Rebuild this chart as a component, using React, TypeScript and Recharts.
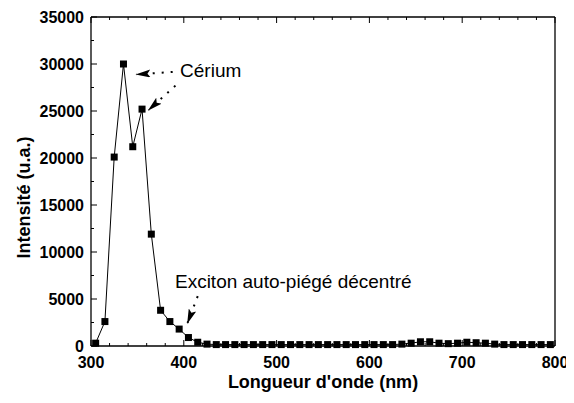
import React from 'react';
import { LineChart, Line, XAxis, YAxis, ReferenceLine, ReferenceDot, Label } from 'recharts';

const wavelengths = [
  305, 315, 325, 335, 345, 355, 365, 375, 385, 395,
  405, 415, 425, 435, 445, 455, 465, 475, 485, 495,
  505, 515, 525, 535, 545, 555, 565, 575, 585, 595,
  605, 615, 625, 635, 645, 655, 665, 675, 685, 695,
  705, 715, 725, 735, 745, 755, 765, 775, 785, 795,
];
const intensities = [
  300, 2600, 20100, 30000, 21200, 25200, 11900, 3800, 2600, 1800,
  900, 400, 200, 150, 150, 150, 150, 150, 150, 150,
  150, 150, 150, 150, 150, 150, 150, 150, 150, 150,
  150, 150, 150, 200, 300, 450, 450, 300, 250, 300,
  400, 350, 300, 200, 150, 150, 150, 150, 150, 150,
];
const xTicks = [300, 320, 340, 360, 380, 400, 420, 440, 460, 480, 500, 520, 540, 560, 580, 600, 620, 640, 660, 680, 700, 720, 740, 760, 780, 800];
const yTicks = [0, 2500, 5000, 7500, 10000, 12500, 15000, 17500, 20000, 22500, 25000, 27500, 30000, 32500, 35000];

const FONT = '"Liberation Sans", Arial, sans-serif';

const data = wavelengths.map((w, i) => ({ w, v: intensities[i] }));

function BottomTick(props: any) {
  const { x, y, payload } = props;
  const major = payload.value % 100 === 0;
  return (
    <g>
      <line x1={x} x2={x} y1={y} y2={y - (major ? 6 : 3)} stroke="#000" />
      {major && (
        <text x={x} y={y + 22} textAnchor="middle" fontFamily={FONT} fontWeight="bold" fontSize={16} fill="#000">
          {payload.value}
        </text>
      )}
    </g>
  );
}

function TopTick(props: any) {
  const { x, y, payload } = props;
  const major = payload.value % 100 === 0;
  return <line x1={x} x2={x} y1={y} y2={y + (major ? 6 : 3)} stroke="#000" />;
}

function LeftTick(props: any) {
  const { x, y, payload } = props;
  const major = payload.value % 5000 === 0;
  return (
    <g>
      <line x1={x} x2={x + (major ? 6 : 3)} y1={y} y2={y} stroke="#000" />
      {major && (
        <text x={x - 7} y={y + 6} textAnchor="end" fontFamily={FONT} fontWeight="bold" fontSize={16} fill="#000">
          {payload.value}
        </text>
      )}
    </g>
  );
}

function RightTick(props: any) {
  const { x, y, payload } = props;
  const major = payload.value % 5000 === 0;
  return <line x1={x} x2={x - (major ? 6 : 3)} y1={y} y2={y} stroke="#000" />;
}

function SquareDot(props: any) {
  const { cx, cy, index } = props;
  return <rect key={index} x={cx - 3.5} y={cy - 3.5} width={7} height={7} fill="#000" />;
}

const arrowStyle = { stroke: '#000', strokeWidth: 2, strokeDasharray: '2 7' };

export default function App() {
  return (
    <div style={{ fontFamily: FONT }}>
      <LineChart width={566} height={395} data={data} margin={{ top: 8, right: 18, left: 13, bottom: 0 }}>
        <defs>
          <marker id="arrowHead" viewBox="0 0 15 8" refX="14" refY="4" markerWidth="15" markerHeight="8" orient="auto" markerUnits="userSpaceOnUse">
            <path d="M0,0 L15,4 L0,8 L3,4 z" fill="#000" />
          </marker>
        </defs>
        <XAxis
          dataKey="w"
          type="number"
          domain={[300, 800]}
          ticks={xTicks}
          interval={0}
          height={57}
          tickSize={0}
          tickMargin={0}
          tick={<BottomTick />}
          axisLine={{ stroke: '#000', strokeWidth: 1.3 }}
          tickLine={false}
        >
          <Label
            content={({ viewBox }: any) => (
              <text x={viewBox.x + viewBox.width / 2} y={viewBox.y + 42} textAnchor="middle" fontFamily={FONT} fontWeight="bold" fontSize={18} fill="#000">
                Longueur d'onde (nm)
              </text>
            )}
          />
        </XAxis>
        <XAxis
          xAxisId="top"
          orientation="top"
          dataKey="w"
          type="number"
          domain={[300, 800]}
          ticks={xTicks}
          interval={0}
          height={1}
          tickSize={0}
          tickMargin={0}
          tick={<TopTick />}
          axisLine={{ stroke: '#000', strokeWidth: 1.3 }}
          tickLine={false}
        />
        <YAxis
          type="number"
          domain={[0, 35000]}
          ticks={yTicks}
          interval={0}
          width={70}
          tickSize={0}
          tickMargin={0}
          tick={<LeftTick />}
          axisLine={{ stroke: '#000', strokeWidth: 1.3 }}
          tickLine={false}
        >
          <Label
            content={({ viewBox }: any) => {
              const cx = viewBox.x + 3;
              const cy = viewBox.y + viewBox.height / 2 + 16;
              return (
                <text x={cx} y={cy} transform={`rotate(-90 ${cx} ${cy})`} textAnchor="middle" dominantBaseline="central" fontFamily={FONT} fontWeight="bold" fontSize={18} fill="#000">
                  Intensité (u.a.)
                </text>
              );
            }}
          />
        </YAxis>
        <YAxis
          yAxisId="right"
          orientation="right"
          type="number"
          domain={[0, 35000]}
          ticks={yTicks}
          interval={0}
          width={1}
          tickSize={0}
          tickMargin={0}
          tick={<RightTick />}
          axisLine={{ stroke: '#000', strokeWidth: 1.3 }}
          tickLine={false}
        />
        <Line
          type="linear"
          dataKey="v"
          stroke="#000"
          strokeWidth={1}
          dot={<SquareDot />}
          activeDot={false}
          isAnimationActive={false}
        />
        <ReferenceLine segment={[{ x: 388, y: 29150 }, { x: 349, y: 28900 }]} {...arrowStyle} markerEnd="url(#arrowHead)" />
        <ReferenceLine segment={[{ x: 391, y: 27700 }, { x: 362, y: 25100 }]} {...arrowStyle} markerEnd="url(#arrowHead)" />
        <ReferenceLine segment={[{ x: 415, y: 5300 }, { x: 404, y: 2450 }]} {...arrowStyle} markerEnd="url(#arrowHead)" />
        <ReferenceDot x={396} y={29300} r={0} fill="none" stroke="none">
          <Label value="Cérium" position="right" offset={0} fontFamily={FONT} fontSize={19} fill="#000" />
        </ReferenceDot>
        <ReferenceDot x={390.5} y={6900} r={0} fill="none" stroke="none">
          <Label value="Exciton auto-piégé décentré" position="right" offset={0} fontFamily={FONT} fontSize={19} fill="#000" />
        </ReferenceDot>
      </LineChart>
    </div>
  );
}
